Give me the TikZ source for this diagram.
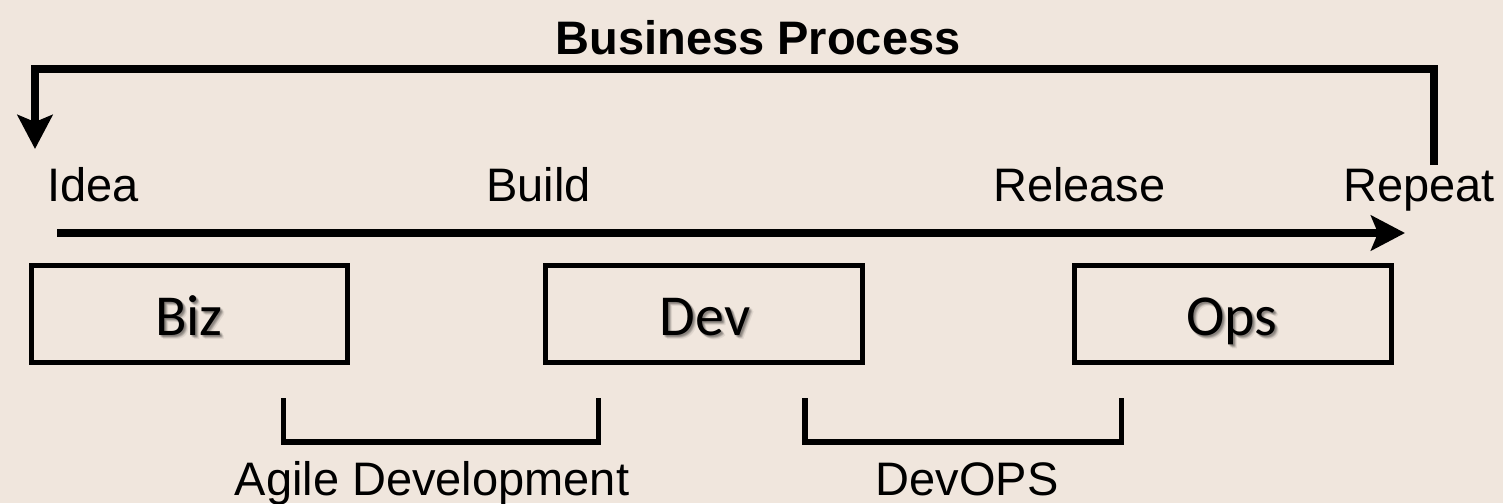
\documentclass[tikz,border=0pt]{standalone}
\usepackage{fontspec}
\setmainfont{Liberation Sans}
\newfontfamily\boxfont{Carlito}
\usetikzlibrary{arrows.meta,calc}
\definecolor{bg}{HTML}{F0E6DD}
\begin{document}
\begin{tikzpicture}[x=1pt,y=-1pt,
  lbl/.style={font=\fontsize{47}{56}\selectfont, inner sep=0pt, anchor=base west},
  clbl/.style={font=\fontsize{47}{56}\selectfont, inner sep=0pt, anchor=base},
  stagebox/.style={draw=black, line width=5pt, inner sep=0pt, minimum height=97pt},
  boxtxt/.style={font=\boxfont\fontsize{58}{68}\selectfont, inner sep=0pt, anchor=base},
  shadowtxt/.style={boxtxt, text=black, opacity=0.07},
  thickline/.style={line width=7.5pt},
  bracketline/.style={line width=5.5pt},
  bigtip/.style={-{Stealth[length=34pt,width=35pt,inset=7pt]}}
]
\useasboundingbox (0,0) rectangle (1503,503);
\fill[bg] (0,0) rectangle (1503,503);

% title
\node[font=\bfseries\fontsize{47}{56}\selectfont, inner sep=0pt, anchor=base] (title) at (758,55) {Business Process};

% stage labels
\node[lbl] (idea) at (47,201) {Idea};
\node[lbl] (build) at (486,201) {Build};
\node[lbl] (release) at (993,201) {Release};
\node[lbl] (repeat) at (1343,201) {Repeat};

% feedback loop
\coordinate (loopstart) at (1434,165);
\coordinate (loopcorner) at (35,69);
\coordinate (loopend) at (35,149);
\draw[thickline, bigtip] (loopstart) |- (loopcorner) -- (loopend);

% main timeline
\coordinate (tlstart) at (57,233);
\coordinate (tlend) at (1405,233);
\draw[thickline, bigtip] (tlstart) -- (tlend);

% boxes
\node[stagebox, minimum width=316pt] (biz) at (189,313.5) {};
\node[stagebox, minimum width=317pt] (dev) at (704,313.5) {};
\node[stagebox, minimum width=317pt] (ops) at (1232.5,313.5) {};

\foreach \dx/\dy in {1/1,2/2,3/3,2/3,3/2,1/2,2/1,4/4} {
  \node[shadowtxt] at ($(189,335)+(\dx,\dy)$) {Biz};
  \node[shadowtxt] at ($(705,335)+(\dx,\dy)$) {Dev};
  \node[shadowtxt] at ($(1232,335)+(\dx,\dy)$) {Ops};
}
\node[boxtxt] (biztxt) at (189,335) {Biz};
\node[boxtxt] (devtxt) at (705,335) {Dev};
\node[boxtxt] (opstxt) at (1232,335) {Ops};

% brackets
\coordinate (agA) at (283.5,398);
\coordinate (agB) at (598.5,442);
\coordinate (agC) at (598.5,398);
\draw[bracketline] (agA) |- (agB) -- (agC);
\coordinate (doA) at (805,398);
\coordinate (doB) at (1121.5,442);
\coordinate (doC) at (1121.5,398);
\draw[bracketline] (doA) |- (doB) -- (doC);

\node[clbl] (agile) at (432,495) {Agile Development};
\node[clbl] (devops) at (967,495) {DevOPS};
\end{tikzpicture}
\end{document}
